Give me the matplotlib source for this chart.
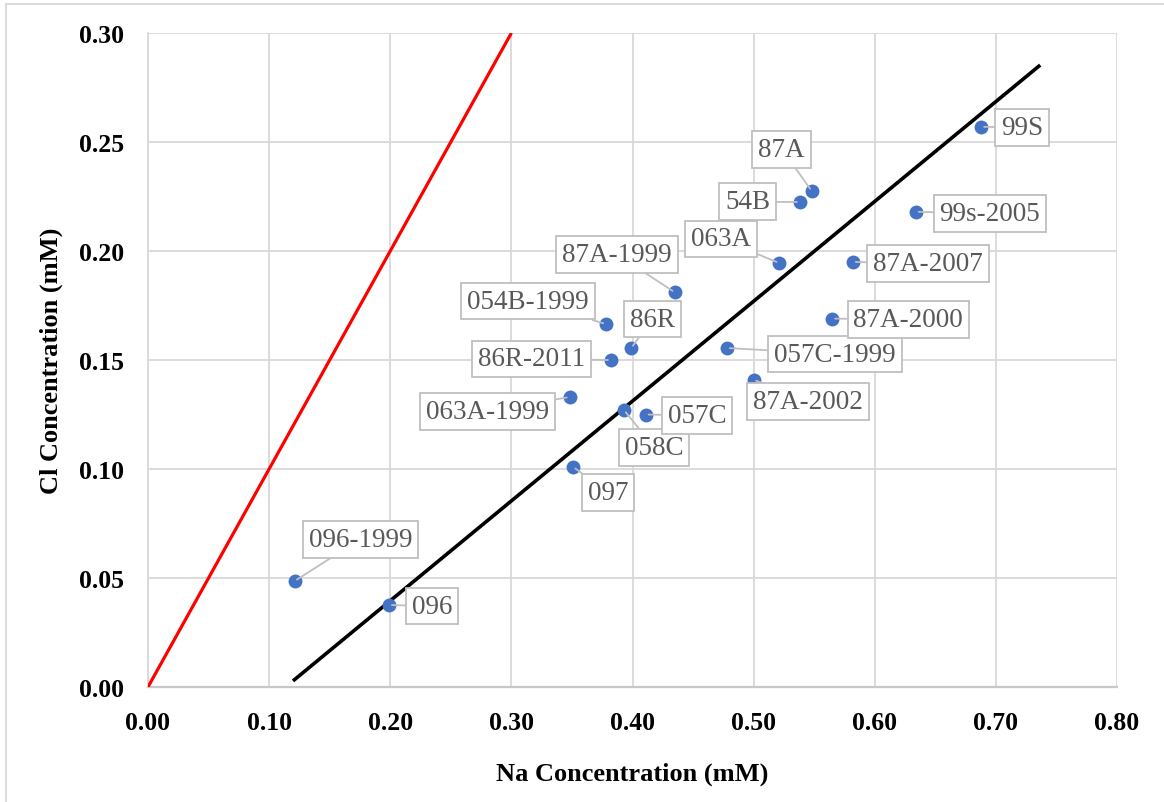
import matplotlib.pyplot as plt
from matplotlib.lines import Line2D

plt.rcParams['font.family'] = ['Liberation Serif', 'DejaVu Serif']

# sample points: Na (x) and Cl (y) in mM
names = ['096-1999', '096', '097', '063A-1999', '058C', '057C', '86R-2011', '86R',
         '054B-1999', '87A-1999', '063A', '057C-1999', '87A-2002', '54B', '87A',
         '87A-2007', '87A-2000', '99s-2005', '99S']
na = [0.121, 0.199, 0.351, 0.348, 0.393, 0.411, 0.382, 0.399,
      0.378, 0.435, 0.521, 0.478, 0.500, 0.538, 0.548,
      0.582, 0.565, 0.634, 0.688]
cl = [0.0486, 0.0376, 0.101, 0.133, 0.127, 0.125, 0.150, 0.1555,
      0.1665, 0.181, 0.1945, 0.1555, 0.141, 0.2225, 0.2275,
      0.195, 0.169, 0.218, 0.257]
# label offsets (pixels) from each point
offs = [(66, 42), (43, -1), (35, -26), (-82, -14), (30, -37), (51, -1), (-79, 1), (21, 29),
        (-78, 23), (-58, 38), (-58, 24), (108, -6), (54, -22), (-52, 0), (-30, 42),
        (75, -2), (76, -1), (74, -2), (41, -1)]

# 1:1 line and fitted line
one_x = [0.0, 0.30]
one_y = [0.0, 0.30]
fit_x = [0.1197, 0.7366]
fit_y = [0.0028, 0.2853]

fig = plt.figure(figsize=(11.64, 8.03), dpi=100)
ax = fig.add_axes([148/1164, 1-688/803, (1117-148)/1164, (688-34)/803])

grid_c = '#d9d9d9'
ax.set_xlim(0, 0.80)
ax.set_ylim(0, 0.30)
ax.set_xticks([i*0.1 for i in range(9)])
ax.set_yticks([i*0.05 for i in range(7)])
ax.set_xticklabels(['%.2f' % (i*0.1) for i in range(9)])
ax.set_yticklabels(['%.2f' % (i*0.05) for i in range(7)])
ax.grid(True, color=grid_c, linewidth=1.3, zorder=0)
ax.set_axisbelow(True)
for s in ['top', 'right']:
    ax.spines[s].set_visible(False)
ax.spines['left'].set_color(grid_c)
ax.spines['left'].set_linewidth(1.3)
ax.spines['bottom'].set_color('#c8c8c8')
ax.spines['bottom'].set_linewidth(1.6)
ax.tick_params(length=0, labelsize=18.5, pad=17)
ax.tick_params(axis='x', pad=17)
for t in ax.get_xticklabels() + ax.get_yticklabels():
    t.set_fontweight('bold')

ax.plot(one_x, one_y, color='#ff0000', linewidth=2.3, zorder=3, solid_capstyle='butt')
ax.plot(fit_x, fit_y, color='black', linewidth=2.6, zorder=3, solid_capstyle='butt')
ax.scatter(na, cl, s=100, color='#4472c4', zorder=4, linewidths=0)

for n, x, y, o in zip(names, na, cl, offs):
    ax.annotate(n, (x, y), xytext=o, textcoords='offset pixels',
                ha='center', va='center', fontsize=19.5, color='#595959', zorder=5,
                bbox=dict(boxstyle='square,pad=0.22', fc='white', ec='#bfbfbf', lw=1.3),
                arrowprops=dict(arrowstyle='-', color='#bfbfbf', lw=1.3,
                                shrinkA=0, shrinkB=2))

ax.set_xlabel('Na Concentration (mM)', fontsize=19, fontweight='bold', labelpad=20)
ax.set_ylabel('Cl Concentration (mM)', fontsize=19, fontweight='bold', labelpad=12)

# outer chart border (left and top edges visible)
fig.add_artist(Line2D([6/1164, 6/1164], [0, 1-5/803], color='#d9d9d9', lw=1.3))
fig.add_artist(Line2D([6/1164, 1], [1-5/803, 1-5/803], color='#d9d9d9', lw=1.3))

fig.savefig('out.png', dpi=100)
